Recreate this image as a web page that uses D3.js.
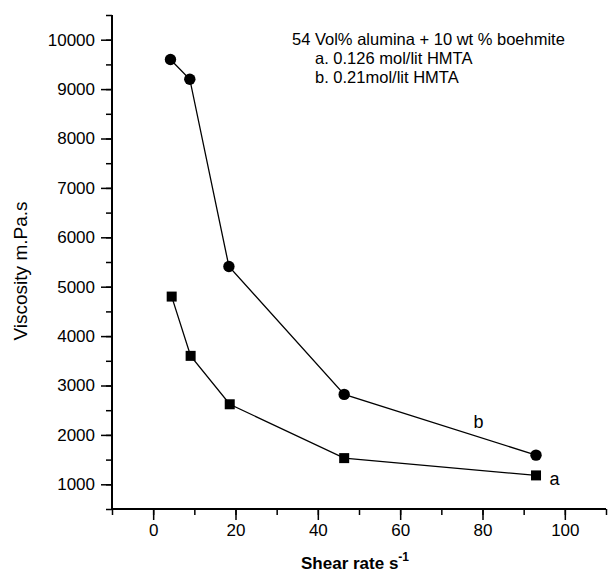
<!DOCTYPE html>
<html>
<head>
<meta charset="utf-8">
<script src="https://cdn.jsdelivr.net/npm/d3@7"></script>
<style>
  body { margin: 0; background: #fff; }
  text { font-family: "Liberation Sans", Arial, sans-serif; fill: #000; }
</style>
</head>
<body>
<div id="chart"></div>
<script>
// datos
var shearA = [4.5, 9.1, 18.6, 46.4, 93.0];
var viscA  = [4800, 3600, 2620, 1530, 1180];
var shearB = [4.2, 8.9, 18.4, 46.4, 93.0];
var viscB  = [9600, 9200, 5410, 2820, 1590];

var xTicks = [0, 20, 40, 60, 80, 100];
var yTicks = [1000, 2000, 3000, 4000, 5000, 6000, 7000, 8000, 9000, 10000];

var titleLines = ["54 Vol% alumina + 10 wt % boehmite", "a. 0.126 mol/lit HMTA", "b. 0.21mol/lit HMTA"];

var width = 608, height = 574;
var margin = {top: 15, right: 2, bottom: 65, left: 112};

var svg = d3.select("#chart").append("svg")
  .attr("width", width)
  .attr("height", height);

// escalas
var eX = d3.scaleLinear().domain([-10, 110]).range([margin.left, width - margin.right]);
var eY = d3.scaleLinear().domain([500, 10500]).range([height - margin.bottom, margin.top]);

// ejes: menores primero, luego mayores con etiqueta
var xMinor = d3.axisBottom(eX).tickValues(d3.range(-10, 111, 10)).tickSize(6).tickFormat("");
var xMajor = d3.axisBottom(eX).tickValues(xTicks).tickSize(11).tickPadding(4).tickFormat(d3.format("d"));
var yMinor = d3.axisLeft(eY).tickValues(d3.range(500, 10501, 500)).tickSize(6).tickFormat("");
var yMajor = d3.axisLeft(eY).tickValues(yTicks).tickSize(11).tickPadding(6).tickFormat(d3.format("d"));

function styleAxis(g) {
  g.select(".domain").remove();
  g.selectAll("line").attr("stroke", "#000").attr("stroke-width", 1.5);
  g.selectAll("text").style("font-size", "17px").attr("fill", "#000");
}

svg.append("g").attr("transform", "translate(0," + eY(500) + ")").call(xMinor).call(styleAxis);
svg.append("g").attr("transform", "translate(0," + eY(500) + ")").call(xMajor).call(styleAxis);
svg.append("g").attr("transform", "translate(" + eX(-10) + ",0)").call(yMinor).call(styleAxis);
svg.append("g").attr("transform", "translate(" + eX(-10) + ",0)").call(yMajor).call(styleAxis);

// lineas de los ejes
svg.append("line")
  .attr("x1", eX(-10)).attr("x2", eX(110))
  .attr("y1", eY(500)).attr("y2", eY(500))
  .attr("stroke", "#000").attr("stroke-width", 2);
svg.append("line")
  .attr("x1", eX(-10)).attr("x2", eX(-10))
  .attr("y1", eY(500)).attr("y2", eY(10500))
  .attr("stroke", "#000").attr("stroke-width", 2);

// titulos de ejes
var xt = svg.append("text")
  .attr("x", 301).attr("y", 569)
  .style("font-size", "17px").style("font-weight", "bold");
xt.append("tspan").text("Shear rate s");
xt.append("tspan").text("-1").attr("dy", -8).style("font-size", "12px");

svg.append("text")
  .attr("transform", "translate(27,271) rotate(-90)")
  .attr("text-anchor", "middle")
  .style("font-size", "19px")
  .text("Viscosity m.Pa.s");

// series
var dataA = shearA.map(function(d, i) { return {x: d, y: viscA[i]}; });
var dataB = shearB.map(function(d, i) { return {x: d, y: viscB[i]}; });

var line = d3.line().x(function(d) { return eX(d.x); }).y(function(d) { return eY(d.y); });

svg.append("path").datum(dataB).attr("d", line)
  .attr("fill", "none").attr("stroke", "#000").attr("stroke-width", 1.3);
svg.append("path").datum(dataA).attr("d", line)
  .attr("fill", "none").attr("stroke", "#000").attr("stroke-width", 1.3);

svg.selectAll(".ptB").data(dataB).enter().append("circle")
  .attr("class", "ptB")
  .attr("cx", function(d) { return eX(d.x); })
  .attr("cy", function(d) { return eY(d.y); })
  .attr("r", 5.7)
  .attr("fill", "#000");

svg.selectAll(".ptA").data(dataA).enter().append("rect")
  .attr("class", "ptA")
  .attr("x", function(d) { return eX(d.x) - 5; })
  .attr("y", function(d) { return eY(d.y) - 5; })
  .attr("width", 10).attr("height", 10)
  .attr("fill", "#000");

// etiquetas de las curvas
svg.append("text").attr("x", eX(79)).attr("y", eY(2250) + 5)
  .attr("text-anchor", "middle").style("font-size", "18px").text("b");
svg.append("text").attr("x", eX(97.5)).attr("y", eY(1090) + 5)
  .attr("text-anchor", "middle").style("font-size", "18px").text("a");

// leyenda de texto
svg.selectAll(".leg").data(titleLines).enter().append("text")
  .attr("class", "leg")
  .attr("x", function(d, i) { return i == 0 ? 292 : 315; })
  .attr("y", function(d, i) { return 45 + i * 19; })
  .style("font-size", "16.5px")
  .text(function(d) { return d; });
</script>
</body>
</html>
